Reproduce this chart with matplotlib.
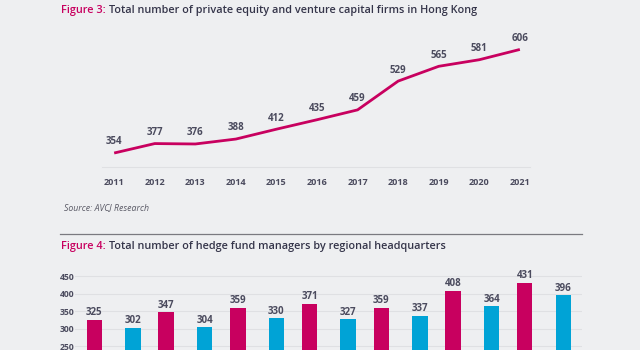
import matplotlib
matplotlib.use("Agg")
import matplotlib.pyplot as plt
import numpy as np

# figure 3 data
years = [2011, 2012, 2013, 2014, 2015, 2016, 2017, 2018, 2019, 2020, 2021]
pe_vc_firms = [354, 377, 376, 388, 412, 435, 459, 529, 565, 581, 606]

# figure 4 data (cropped at the bottom in the reference)
hf_groups = np.arange(7)
hf_red = [325, 347, 359, 371, 359, 408, 431]
hf_blue = [302, 304, 330, 327, 337, 364, 396]
hf_yticks = [250, 300, 350, 400, 450]

BG = "#eeeff1"
MAGENTA = "#c8005f"
BLUE = "#00a3d6"
TXT = "#4b4b5e"
W, H = 640, 350

plt.rcParams["font.family"] = ["Open Sans", "DejaVu Sans"]

fig = plt.figure(figsize=(W / 100, H / 100), dpi=100, facecolor=BG)


def px_axes(left, top, right, bottom):
    return fig.add_axes([left / W, 1 - bottom / H, (right - left) / W, (bottom - top) / H])


def title(x, y, num, rest):
    t = fig.text(x / W, 1 - y / H, f"Figure {num}: ", color=MAGENTA, fontsize=7.85,
                 va="center", ha="left", weight="semibold")
    fig.canvas.draw()
    bb = t.get_window_extent()
    fig.text(bb.x1 / W, 1 - y / H, rest, color="#35354a", fontsize=7.85,
             va="center", ha="left", weight="semibold")


# ---- Figure 3: line chart
title(61, 10, 3, "Total number of private equity and venture capital firms in Hong Kong")

ax = px_axes(102, 40, 530, 167)
ax.set_facecolor(BG)
ax.plot(years, pe_vc_firms, color=MAGENTA, lw=2.0, solid_capstyle="butt")
for x, y in zip(years, pe_vc_firms):
    ax.annotate(str(y), (x, y), xytext=(0, 4), textcoords="offset points",
                ha="center", va="bottom", fontsize=7.0, color=TXT, weight="bold")
ax.set_xlim(2010.7, 2021.25)
ax.set_ylim(320, 629)
ax.set_xticks(years)
ax.set_xticklabels([str(y) for y in years], fontsize=6.5, color=TXT, weight="bold")
ax.tick_params(axis="x", length=0, pad=8)
ax.set_yticks([])
for s in ["top", "left", "right"]:
    ax.spines[s].set_visible(False)
ax.spines["bottom"].set_color("#dfe0e3")
ax.spines["bottom"].set_linewidth(0.8)

fig.text(64 / W, 1 - 208 / H, "Source: AVCJ Research", fontsize=6.3, style="italic",
         color="#5a5a66", va="center", ha="left")

fig.add_artist(plt.Line2D([60 / W, 582 / W], [1 - 234 / H, 1 - 234 / H],
                          color="#7a7a80", lw=0.9))

# ---- Figure 4: grouped bars
title(61, 247, 4, "Total number of hedge fund managers by regional headquarters")

bx = px_axes(75, 262, 582, 350)
bx.set_facecolor(BG)
off = 0.269
bw = 0.216
r1 = bx.bar(hf_groups - off, hf_red, width=bw, color=MAGENTA, zorder=3)
r2 = bx.bar(hf_groups + off, hf_blue, width=bw, color=BLUE, zorder=3)
for rects in (r1, r2):
    bx.bar_label(rects, padding=1, fontsize=7.0, color=TXT, weight="bold")
bx.set_xlim(-0.54, 6.53)
bx.set_ylim(238.6, 490)
bx.set_yticks(hf_yticks)
bx.set_yticklabels([str(v) for v in hf_yticks], fontsize=6.2, color=TXT, weight="bold")
bx.tick_params(axis="y", length=0, pad=1)
for lab in bx.get_yticklabels():
    lab.set_horizontalalignment("left")
    lab.set_x(-14 / (582 - 75))
bx.set_xticks([])
bx.grid(axis="y", color="#dfe0e3", lw=0.8, zorder=0)
for s in bx.spines.values():
    s.set_visible(False)

fig.savefig("out.png", dpi=100, facecolor=BG)
